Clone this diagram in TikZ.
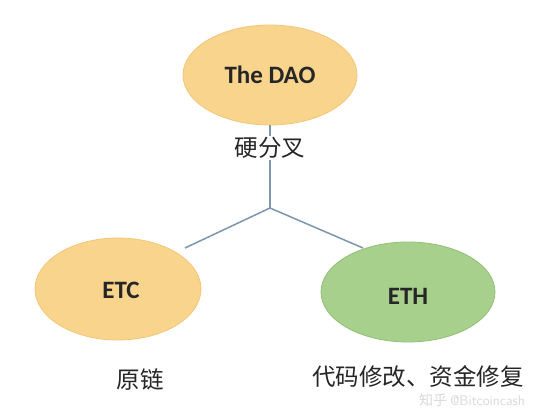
\documentclass[tikz,border=0pt]{standalone}
\usepackage{fontspec}
\setmainfont{Carlito}
\newfontfamily\cjk{Noto Sans CJK SC}
\begin{document}
\begin{tikzpicture}[x=1pt,y=-1pt,
  lbl/.style={font=\bfseries\fontsize{25}{30}\selectfont, text=black!85},
  cn/.style={font=\cjk\fontsize{23.5}{28}\selectfont, text=black!85},
  conn/.style={draw=linec, line width=1.5pt}]
\definecolor{orfill}{HTML}{F9D48C}
\definecolor{orline}{HTML}{F2C77A}
\definecolor{grfill}{HTML}{A8D08D}
\definecolor{grline}{HTML}{93BE78}
\definecolor{linec}{HTML}{7C97AD}
\useasboundingbox (0,0) rectangle (554,414);
\fill[white] (0,0) rectangle (554,414);
\fill[orfill, draw=orline, line width=0.8pt] (270,75) ellipse [x radius=87, y radius=50];
\node[lbl] (dao) at (270,75) {The DAO};
\fill[orfill, draw=orline, line width=0.8pt] (118,289) ellipse [x radius=83, y radius=51];
\node[lbl] (etc) at (121,290) {ETC};
\fill[grfill, draw=grline, line width=0.8pt] (408,292) ellipse [x radius=87, y radius=50];
\node[lbl] (eth) at (408,296) {ETH};
\coordinate (daob) at (270,125);
\coordinate (j) at (270,208);
\coordinate (etce) at (185,248);
\coordinate (ethe) at (363,248);
\draw[conn] (daob) -- (j);
\draw[conn] (j) -- (etce);
\draw[conn] (j) -- (ethe);
\node[cn, fill=white, inner sep=1pt] (fork) at (270,148) {硬分叉};
\node[cn] (orig) at (140,380) {原链};
\node[cn] (fix) at (418,377) {代码修改、资金修复};
\node[font=\sffamily\fontsize{14}{17}\selectfont, text=black!15] (wm) at (472,400) {\cjk 知乎 \sffamily @Bitcoincash};
\end{tikzpicture}
\end{document}
